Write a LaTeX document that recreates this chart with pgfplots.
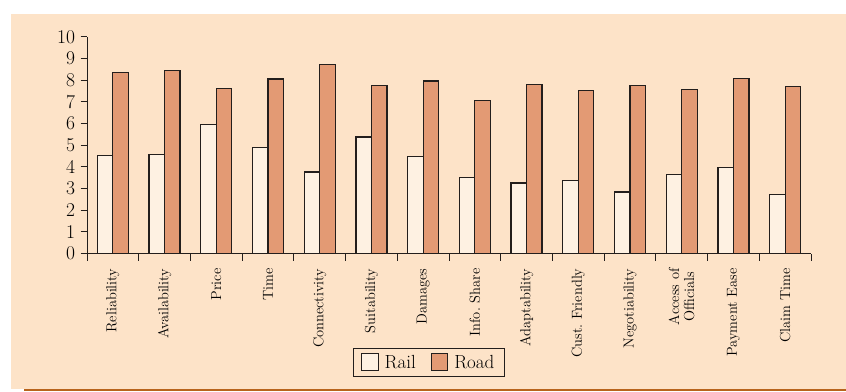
\documentclass[border=0pt]{standalone}
\usepackage{pgfplots}
\pgfplotsset{compat=1.18}

\definecolor{panel}{RGB}{253,227,200}
\definecolor{railfill}{RGB}{254,241,226}
\definecolor{roadfill}{RGB}{227,154,116}
\definecolor{rule}{RGB}{184,100,28}
\definecolor{edge}{RGB}{35,30,28}

\begin{document}
\begin{tikzpicture}
  \useasboundingbox (0pt,0pt) rectangle (846pt,391pt);
  % panel behind the chart and the rule under it
  \fill[panel] (11pt,2pt) rectangle (846pt,377pt);
  \draw[rule, line width=1.8pt] (24pt,0.9pt) -- (846pt,0.9pt);

  \begin{axis}[
    at={(87pt,137.5pt)}, anchor=south west,
    scale only axis, width=724pt, height=216.5pt,
    ybar=0pt, bar width=15.5pt,
    xmin=-0.5, xmax=13.5, ymin=0, ymax=10,
    axis lines*=left,
    axis line style={edge, line width=1pt},
    every tick/.style={edge, line width=1pt},
    tick align=outside,
    xtick={0,...,13},
    xticklabels={Reliability, Availability, Price, Time, Connectivity,
      Suitability, Damages, Info.\ Share, Adaptability, Cust.\ Friendly,
      Negotiability, {Access of\\Officials}, Payment Ease, Claim Time},
    major x tick style={draw=none},
    minor xtick={-0.5,0.5,...,13.5},
    minor tick length=7pt,
    ytick={0,...,10},
    yticklabels={0,1,2,3,4,5,6,7,8,9,10},
    major tick length=6.5pt,
    x tick label style={yshift=-5pt, rotate=90, anchor=east, align=center,
      font=\fontsize{14.5}{15}\selectfont, text=black},
    y tick label style={xshift=-2pt, font=\fontsize{19.5}{19.5}\selectfont, text=black},
    legend columns=2,
    legend style={at={(0.472,-0.503)}, anchor=center,
      draw=edge, line width=1pt, fill=none,
      font=\fontsize{19}{19}\selectfont, text=black,
      inner xsep=8pt, inner ysep=4.5pt,
      /tikz/every odd column/.append style={column sep=4pt},
      /tikz/every even column/.append style={column sep=13pt}},
    legend image code/.code={\draw[#1, line width=1pt] (0pt,-8.5pt) rectangle (16.5pt,8.5pt);},
  ]
    \addplot[fill=railfill, draw=edge, line width=1.2pt] coordinates {
      (0,4.54) (1,4.56) (2,5.95) (3,4.91) (4,3.76) (5,5.38) (6,4.47)
      (7,3.52) (8,3.26) (9,3.36) (10,2.84) (11,3.64) (12,3.96) (13,2.73)};
    \addplot[fill=roadfill, draw=edge, line width=1.2pt] coordinates {
      (0,8.35) (1,8.46) (2,7.61) (3,8.06) (4,8.74) (5,7.77) (6,7.97)
      (7,7.06) (8,7.80) (9,7.52) (10,7.77) (11,7.58) (12,8.09) (13,7.72)};
    \legend{Rail, Road}
  \end{axis}
\end{tikzpicture}
\end{document}
